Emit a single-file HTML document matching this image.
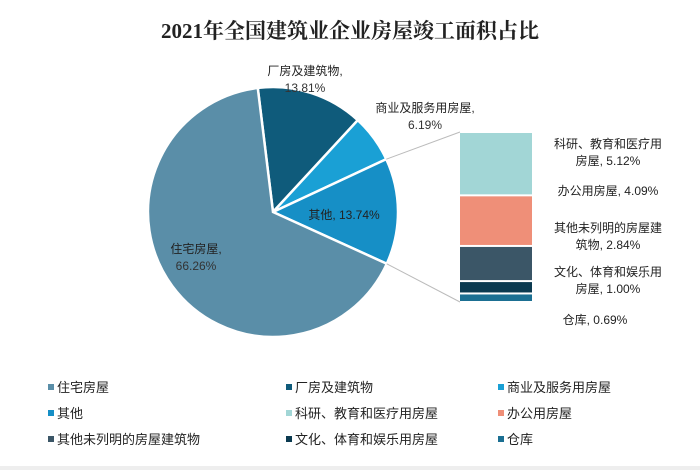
<!DOCTYPE html>
<html><head><meta charset="utf-8"><style>
body{margin:0;background:#fff;}
svg text{font-family:"Liberation Sans","Noto Sans CJK SC",sans-serif;}
</style></head><body>
<svg width="700" height="470" viewBox="0 0 700 470">
<text x="350" y="38" text-anchor="middle" font-size="21" font-weight="bold" fill="#222" style="font-family:'Liberation Serif','Noto Serif CJK SC',serif">2021年全国建筑业企业房屋竣工面积占比</text>
<g id="pie"></g>
<g id="bar"></g>
<g id="legend"></g>
<rect x="0" y="466" width="700" height="4" fill="#eee"/>
</svg>
<script>
const pieNames=["厂房及建筑物","商业及服务用房屋","其他","住宅房屋"];
const pieValues=[13.81,6.19,13.74,66.26];
const pieColors=["#0f5b7b","#1aa0d5","#168fc6","#5a8ea8"];
const barNames=["科研、教育和医疗用房屋","办公用房屋","其他未列明的房屋建筑物","文化、体育和娱乐用房屋","仓库"];
const barValues=[5.12,4.09,2.84,1.00,0.69];
const barColors=["#a2d6d6","#ef8f78","#3b5667","#0b3a50","#1b6f92"];
const legendNames=["住宅房屋","厂房及建筑物","商业及服务用房屋","其他","科研、教育和医疗用房屋","办公用房屋","其他未列明的房屋建筑物","文化、体育和娱乐用房屋","仓库"];
const legendColors=["#5a8ea8","#0f5b7b","#1aa0d5","#168fc6","#a2d6d6","#ef8f78","#3b5667","#0b3a50","#1b6f92"];
const NS="http://www.w3.org/2000/svg";
function mk(t,a,p){const e=document.createElementNS(NS,t);for(const k in a)e.setAttribute(k,a[k]);p.appendChild(e);return e;}
const cx=273,cy=212,r=125,start=-7;
function pt(deg,rad){const a=(deg-90)*Math.PI/180;return [cx+rad*Math.cos(a),cy+rad*Math.sin(a)];}
const pie=document.getElementById('pie');
const total=pieValues.reduce((a,b)=>a+b,0);
let ang=start;const angs=[];
pieValues.forEach((v,i)=>{
  const sweep=v/total*360,a0=ang,a1=ang+sweep;angs.push([a0,a1]);
  const p0=pt(a0,r),p1=pt(a1,r);
  const path=mk('path',{d:`M${cx},${cy}L${p0[0]},${p0[1]}A${r},${r} 0 ${sweep>180?1:0} 1 ${p1[0]},${p1[1]}Z`,fill:pieColors[i],stroke:'#fff','stroke-width':2.5},pie);
  
  
  ang=a1;
});
// labels
const labs=[{x:305,y:75,t:[pieNames[0]+",",pieValues[0].toFixed(2)+"%"],a:'middle'},
{x:425,y:112,t:[pieNames[1]+",",pieValues[1].toFixed(2)+"%"],a:'middle'},
{x:344,y:219,t:[pieNames[2]+", "+pieValues[2].toFixed(2)+"%"],a:'middle'},
{x:196,y:253,t:[pieNames[3]+",",pieValues[3].toFixed(2)+"%"],a:'middle'}];
labs.forEach((l,i)=>{l.t.forEach((s,j)=>{const e=mk('text',{x:l.x,y:l.y+j*17,'text-anchor':l.a,'font-size':12,fill:j==0?'#222':'#333'},pie);e.textContent=s;

});});
// bar
const bar=document.getElementById('bar');
const bx=460,bw=72,by=132,bh=170;
const btot=barValues.reduce((a,b)=>a+b,0);
let y=by;
const bp=pt(angs[2][0],r),ep=pt(angs[2][1],r);
const l1=mk('line',{x1:bp[0],y1:bp[1],x2:bx,y2:by,stroke:'#bbb','stroke-width':1},bar);


const l2=mk('line',{x1:ep[0],y1:ep[1],x2:bx,y2:by+bh,stroke:'#bbb','stroke-width':1},bar);


barValues.forEach((v,i)=>{const h=v/btot*bh;const e=mk('rect',{x:bx,y:y+1,width:bw,height:Math.max(h-2,1),fill:barColors[i]},bar);

y+=h;});
const blabs=[[608,148,"科研、教育和医疗用"],[608,165,"房屋, 5.12%"],[608,195,"办公用房屋, 4.09%"],[608,232,"其他未列明的房屋建"],[608,249,"筑物, 2.84%"],[608,276,"文化、体育和娱乐用"],[608,293,"房屋, 1.00%"],[595,324,"仓库, 0.69%"]];
blabs.forEach(b=>{const e=mk('text',{x:b[0],y:b[1],'text-anchor':'middle','font-size':12,fill:'#222'},bar);e.textContent=b[2];

});
// legend
const lg=document.getElementById('legend');
const colX=[48,286,498],rowY=[392,418,444];
legendNames.forEach((n,i)=>{const x=colX[i%3],yy=rowY[Math.floor(i/3)];
const s=mk('rect',{x:x,y:yy-8,width:6,height:6,fill:legendColors[i]},lg);


const t=mk('text',{x:x+9,y:yy,'font-size':13,fill:'#222'},lg);t.textContent=n;

});
</script>
</body></html>
